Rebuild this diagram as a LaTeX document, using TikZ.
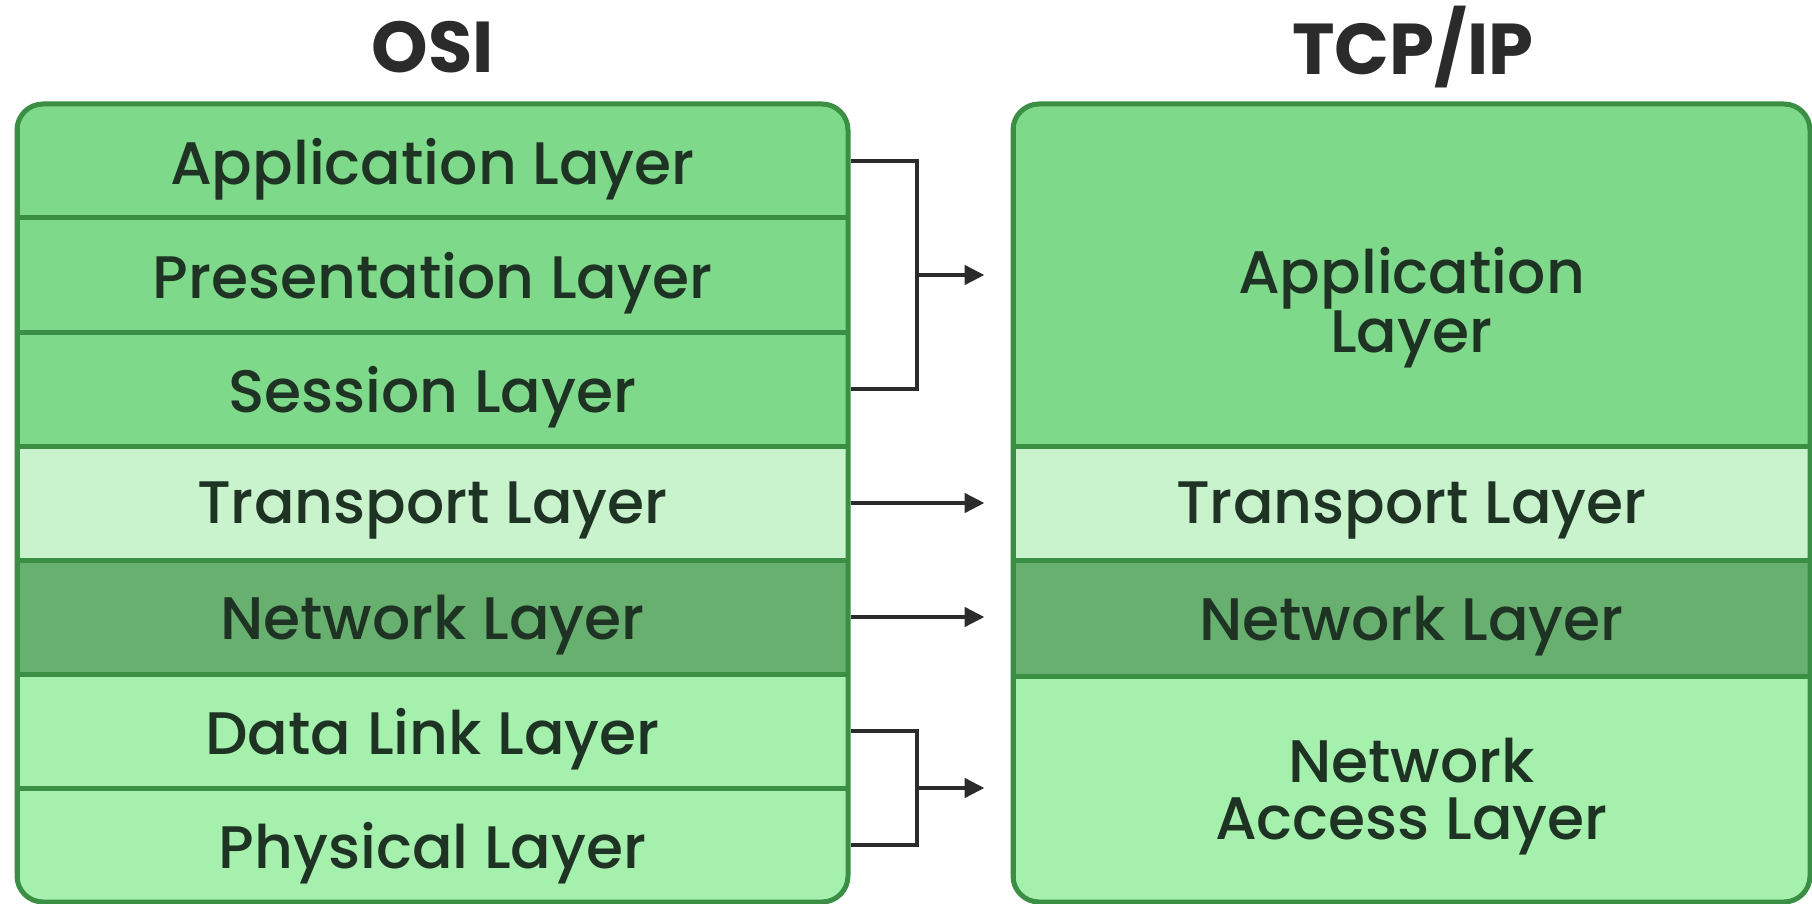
\documentclass[tikz,border=0pt]{standalone}
\usepackage{fontspec}
\setmainfont{Poppins}[UprightFont=* Medium, BoldFont=* Bold]
\usetikzlibrary{arrows.meta}
\definecolor{appgreen}{HTML}{7ED98A}
\definecolor{transgreen}{HTML}{C9F3CD}
\definecolor{netgreen}{HTML}{67B06F}
\definecolor{linkgreen}{HTML}{A6F0AE}
\definecolor{edgegreen}{HTML}{3A8F45}
\definecolor{textgreen}{HTML}{1E3323}
\definecolor{linkgray}{HTML}{2B2B2B}
\newcommand{\rowheight}{57pt}

\begin{document}
\begin{tikzpicture}[x=.5pt,y=-.5pt,
    layer/.style={draw=edgegreen, line width=2.5pt, minimum height=\rowheight,
        inner sep=0pt, text depth=0pt, text=textgreen, font=\fontsize{30}{28.5}\selectfont},
    osirow/.style={layer, minimum width=415.5pt},
    tcprow/.style={layer, minimum width=398.5pt, align=center},
    frame/.style={draw=edgegreen, line width=2.5pt, rounded corners=13pt},
    title/.style={text=linkgray, font=\bfseries\fontsize{36}{38}\selectfont},
    link/.style={draw=linkgray, line width=2.3pt},
    arrow/.style={link, -{Triangle[length=10pt,width=9.5pt]}, shorten >=13pt}]
        \useasboundingbox (0,0) rectangle (1812,904);

        \node (osi) at (433,47) [title] {OSI};
        \node (tcpip) at (1413,47) [title] {TCP/IP};

        % OSI stack
        \begin{scope}
            \clip[rounded corners=13pt] (17,104) rectangle (848,902);
            \foreach \lbl/\col [count=\i] in {Application Layer/appgreen,
                Presentation Layer/appgreen, Session Layer/appgreen,
                Transport Layer/transgreen, Network Layer/netgreen,
                Data Link Layer/linkgreen, Physical Layer/linkgreen}
                {
                  \node (osi\i) at (432.5,{47+114*\i}) [osirow, fill=\col] {\lbl};
                }
        \end{scope}
        \draw[frame] (17,104) rectangle (848,902);

        % TCP/IP stack
        \begin{scope}
            \clip[rounded corners=13pt] (1013,104) rectangle (1810,902);
            \node (tcp1) at (1411.5,275) [tcprow, minimum height=171pt, fill=appgreen] {};
            \node (tcp2) at (1411.5,503) [tcprow, fill=transgreen] {Transport Layer};
            \node (tcp3) at (1411.5,618) [tcprow, minimum height=58pt, fill=netgreen] {Network Layer};
            \node (tcp4) at (1411.5,789) [tcprow, minimum height=113pt, fill=linkgreen] {Network\\Access Layer};
        \end{scope}
        \node (tcp1text) at (1411.5,300) [tcprow, draw=none] {Application\\Layer};
        \draw[frame] (1013,104) rectangle (1810,902);

        % mapping
        \coordinate (upper) at (917,275);
        \coordinate (lower) at (917,788);
        \draw[link] (osi1.east) -| (upper) |- (osi3.east);
        \draw[arrow] (upper) -- (upper -| tcp1.west);
        \draw[arrow] (osi4.east) -- (tcp2.west);
        \draw[arrow] (osi5.east) -- (osi5.east -| tcp3.west);
        \draw[link] (osi6.east) -| (lower) |- (osi7.east);
        \draw[arrow] (lower) -- (lower -| tcp4.west);
\end{tikzpicture}
\end{document}
